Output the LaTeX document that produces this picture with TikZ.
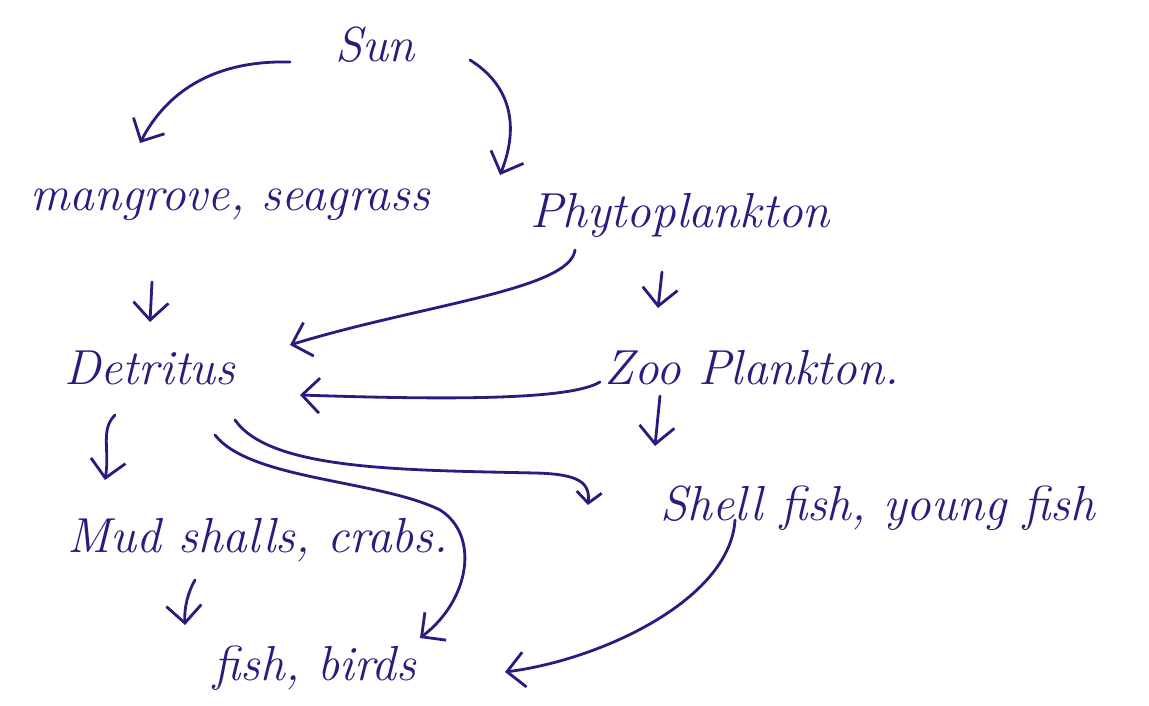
\documentclass[tikz,border=0pt]{standalone}
\usetikzlibrary{arrows.meta,calc}
\definecolor{ink}{RGB}{40,28,125}
\begin{document}
\begin{tikzpicture}[x=0.02cm,y=-0.02cm,
  lbl/.style={text=ink,font=\fontsize{28}{32}\selectfont\itshape,inner sep=0pt},
  con/.style={draw=ink,line width=1.6pt,line cap=round,-{Straight Barb[length=3.5mm,width=7mm]}},
  smallhead/.style={-{Straight Barb[length=2.2mm,width=5mm]}}]
\fill[white] (0,0) rectangle (1149,706);
\useasboundingbox (0,0) rectangle (1149,706);
\node[lbl] (sun) at (375,45) {Sun};
\node[lbl] (mang) at (230,205) {mangrove, seagrass};
\node[lbl] (phyto) at (680,215) {Phytoplankton};
\node[lbl] (det) at (150,368) {Detritus};
\node[lbl] (zoo) at (752,368) {Zoo Plankton.};
\node[lbl] (mud) at (258,540) {Mud shalls, crabs.};
\node[lbl] (shell) at (878,508) {Shell fish, young fish};
\node[lbl] (fb) at (315,668) {fish, birds};
% Sun -> mangrove
\draw[con] ($(sun)+(-85,17)$) .. controls ($(sun)+(-165,15)$) and ($(sun)+(-210,50)$) .. ($(mang)+(-90,-62)$);
% Sun -> phytoplankton
\draw[con] ($(sun)+(95,15)$) .. controls ($(sun)+(135,40)$) and ($(sun)+(145,80)$) .. ($(phyto)+(-180,-40)$);
% mangrove -> detritus
\draw[con] ($(mang)+(-78,77)$) -- ($(det)+(0,-46)$);
% phyto -> zoo
\draw[con] ($(phyto)+(-18,57)$) -- ($(zoo)+(-94,-60)$);
% phyto -> detritus
\draw[con] ($(phyto)+(-105,35)$) .. controls ($(phyto)+(-110,75)$) and ($(phyto)+(-260,90)$) .. ($(det)+(140,-23)$);
% zoo -> detritus
\draw[con] ($(zoo)+(-152,14)$) .. controls ($(zoo)+(-182,32)$) and ($(zoo)+(-302,32)$) .. ($(det)+(150,27)$);
% zoo -> shell
\draw[con] ($(zoo)+(-92,28)$) -- ($(shell)+(-223,-62)$);
% detritus -> mud
\draw[con] ($(det)+(-35,47)$) .. controls ($(det)+(-50,62)$) and ($(det)+(-40,82)$) .. ($(mud)+(-153,-60)$);
% detritus -> shell
\draw[con,smallhead] ($(det)+(85,52)$) .. controls ($(det)+(120,102)$) and ($(det)+(250,102)$) .. ($(det)+(385,105)$) .. controls ($(det)+(430,106)$) and ($(det)+(440,115)$) .. ($(shell)+(-290,-3)$);
% detritus -> fish, birds
\draw[con] ($(det)+(65,67)$) .. controls ($(det)+(100,112)$) and ($(det)+(230,112)$) .. ($(det)+(290,142)$) .. controls ($(det)+(330,167)$) and ($(det)+(320,232)$) .. ($(fb)+(105,-30)$);
% mud -> fish, birds
\draw[con] ($(mud)+(-63,40)$) .. controls ($(mud)+(-70,52)$) and ($(mud)+(-74,68)$) .. ($(fb)+(-130,-43)$);
% shell -> fish, birds
\draw[con] ($(shell)+(-143,12)$) .. controls ($(shell)+(-148,92)$) and ($(shell)+(-278,152)$) .. ($(fb)+(190,4)$);
\end{tikzpicture}
\end{document}
